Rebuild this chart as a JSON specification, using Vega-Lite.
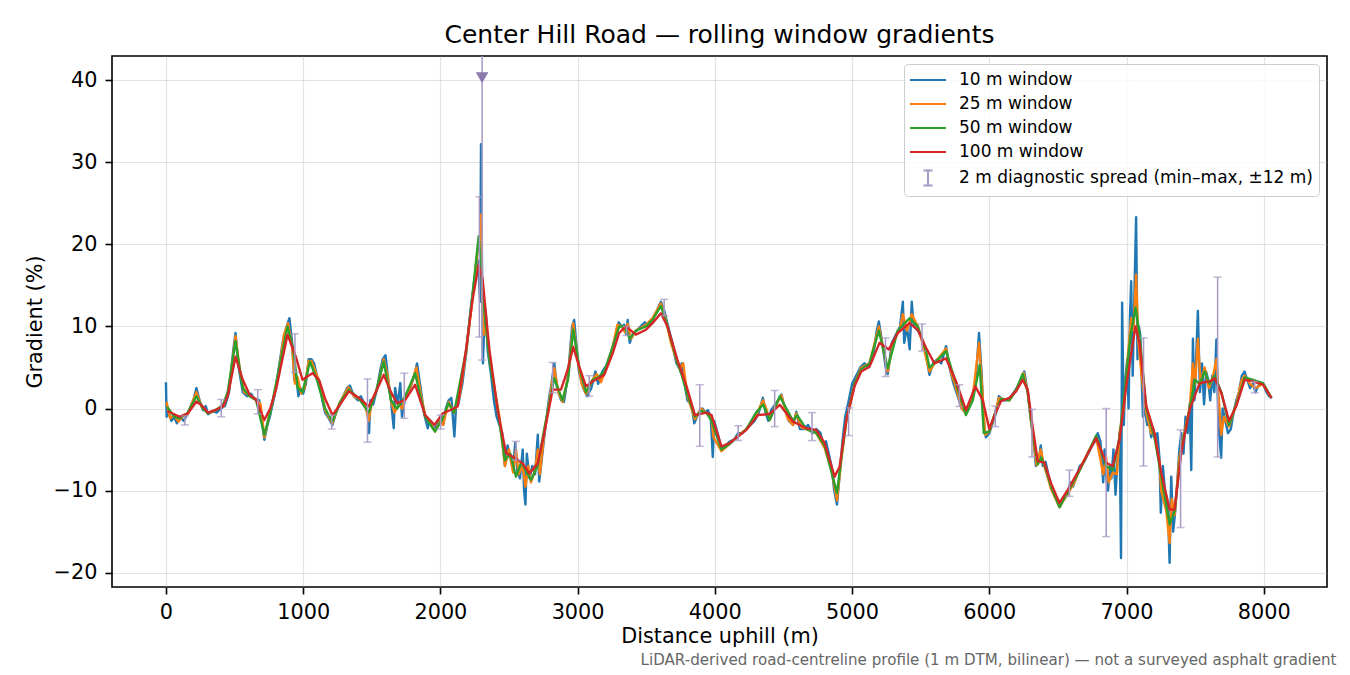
{
"$schema":"https://vega.github.io/schema/vega-lite/v6.json",
"width":1215,"height":531,
"autosize":{"type":"none"},
"padding":{"left":112,"top":56,"right":23,"bottom":88},
"background":"white",
"title":{"text":"Center Hill Road — rolling window gradients","fontSize":25,"font":"DejaVu Sans","fontWeight":"normal","anchor":"middle","offset":8,"color":"#000"},
"config":{
"font":"DejaVu Sans",
"view":{"stroke":"#000","strokeWidth":1.6},
"axis":{"labelFont":"DejaVu Sans","titleFont":"DejaVu Sans","labelFontSize":20.8,"titleFontSize":20.8,"titleFontWeight":"normal","labelColor":"#000","titleColor":"#000","tickColor":"#000","tickSize":7,"tickWidth":1.6,"labelPadding":8,"domain":false,"gridColor":"#b0b0b0","gridOpacity":0.35,"gridWidth":1.2,"labelFlush":false,"labelOverlap":false}
},
"resolve":{"axis":{"x":"independent","y":"independent"}},
"layer":[
{"data":{"values":[
{"d":0,"g":3.2},{"d":5,"g":-1.0},{"d":20,"g":-0.5},{"d":40,"g":-1.5},{"d":60,"g":-1.0},{"d":80,"g":-1.8},{"d":100,"g":-1.0},{"d":130,"g":-1.5},{"d":160,"g":-0.5},{"d":200,"g":1.0},{"d":222,"g":2.5},{"d":245,"g":1.0},{"d":270,"g":-0.2},{"d":290,"g":0.3},{"d":307,"g":-0.7},{"d":340,"g":-0.3},{"d":370,"g":-0.5},{"d":400,"g":0.0},{"d":430,"g":0.3},{"d":460,"g":2.0},{"d":490,"g":7.0},{"d":507,"g":9.2},{"d":530,"g":5.0},{"d":560,"g":2.0},{"d":590,"g":1.5},{"d":620,"g":1.8},{"d":640,"g":1.3},{"d":680,"g":1.0},{"d":717,"g":-3.8},{"d":740,"g":-2.0},{"d":760,"g":-0.8},{"d":790,"g":1.5},{"d":810,"g":3.5},{"d":850,"g":8.0},{"d":880,"g":10.0},{"d":900,"g":11.0},{"d":920,"g":8.0},{"d":935,"g":3.5},{"d":950,"g":4.0},{"d":965,"g":1.5},{"d":980,"g":2.5},{"d":1000,"g":1.8},{"d":1020,"g":3.0},{"d":1040,"g":6.0},{"d":1060,"g":6.0},{"d":1080,"g":5.5},{"d":1100,"g":4.0},{"d":1120,"g":3.0},{"d":1140,"g":1.0},{"d":1160,"g":-0.5},{"d":1180,"g":-1.0},{"d":1213,"g":-2.0},{"d":1240,"g":-0.5},{"d":1280,"g":1.0},{"d":1320,"g":2.5},{"d":1340,"g":2.8},{"d":1370,"g":1.5},{"d":1400,"g":1.0},{"d":1420,"g":1.5},{"d":1450,"g":0.5},{"d":1470,"g":-0.5},{"d":1480,"g":-3.0},{"d":1490,"g":1.0},{"d":1510,"g":0.5},{"d":1540,"g":2.5},{"d":1560,"g":4.5},{"d":1580,"g":6.0},{"d":1600,"g":6.5},{"d":1620,"g":3.5},{"d":1640,"g":1.0},{"d":1660,"g":-2.4},{"d":1670,"g":2.5},{"d":1690,"g":0.5},{"d":1708,"g":3.1},{"d":1720,"g":-1.0},{"d":1740,"g":1.0},{"d":1780,"g":2.5},{"d":1810,"g":4.0},{"d":1830,"g":5.5},{"d":1860,"g":2.0},{"d":1880,"g":-0.5},{"d":1908,"g":-2.4},{"d":1920,"g":-1.5},{"d":1950,"g":-2.5},{"d":1980,"g":-2.0},{"d":2000,"g":-1.0},{"d":2020,"g":-2.0},{"d":2040,"g":0.0},{"d":2060,"g":1.0},{"d":2080,"g":1.3},{"d":2102,"g":-3.4},{"d":2115,"g":0.5},{"d":2130,"g":0.5},{"d":2160,"g":3.0},{"d":2190,"g":7.0},{"d":2220,"g":12.0},{"d":2250,"g":16.0},{"d":2275,"g":18.0},{"d":2290,"g":13.0},{"d":2296,"g":32.2},{"d":2302,"g":20.0},{"d":2310,"g":5.5},{"d":2320,"g":10.5},{"d":2330,"g":12.0},{"d":2345,"g":7.0},{"d":2370,"g":4.0},{"d":2390,"g":1.0},{"d":2410,"g":-1.0},{"d":2430,"g":-2.0},{"d":2450,"g":-3.0},{"d":2470,"g":-7.0},{"d":2490,"g":-4.5},{"d":2510,"g":-6.0},{"d":2530,"g":-7.5},{"d":2545,"g":-4.2},{"d":2560,"g":-7.5},{"d":2580,"g":-8.5},{"d":2600,"g":-5.0},{"d":2610,"g":-10.0},{"d":2620,"g":-11.7},{"d":2630,"g":-5.5},{"d":2650,"g":-8.5},{"d":2670,"g":-7.0},{"d":2690,"g":-8.0},{"d":2710,"g":-3.2},{"d":2720,"g":-8.9},{"d":2740,"g":-6.0},{"d":2760,"g":-3.0},{"d":2790,"g":1.0},{"d":2810,"g":3.0},{"d":2830,"g":5.5},{"d":2850,"g":2.5},{"d":2880,"g":1.0},{"d":2900,"g":0.8},{"d":2930,"g":4.0},{"d":2960,"g":10.0},{"d":2975,"g":10.8},{"d":2990,"g":8.0},{"d":3010,"g":4.5},{"d":3040,"g":2.5},{"d":3070,"g":1.5},{"d":3100,"g":2.5},{"d":3130,"g":4.5},{"d":3150,"g":3.0},{"d":3180,"g":4.5},{"d":3220,"g":5.5},{"d":3250,"g":7.0},{"d":3280,"g":9.0},{"d":3300,"g":10.5},{"d":3320,"g":10.0},{"d":3340,"g":10.2},{"d":3355,"g":9.0},{"d":3365,"g":10.8},{"d":3380,"g":8.0},{"d":3400,"g":9.0},{"d":3430,"g":9.5},{"d":3460,"g":10.0},{"d":3490,"g":10.5},{"d":3520,"g":10.0},{"d":3550,"g":11.0},{"d":3580,"g":12.0},{"d":3607,"g":13.0},{"d":3630,"g":12.0},{"d":3660,"g":10.0},{"d":3690,"g":8.0},{"d":3720,"g":5.5},{"d":3740,"g":5.0},{"d":3760,"g":5.5},{"d":3780,"g":3.0},{"d":3800,"g":1.0},{"d":3830,"g":0.5},{"d":3850,"g":-1.8},{"d":3870,"g":-1.0},{"d":3890,"g":-0.3},{"d":3910,"g":0.0},{"d":3930,"g":-0.5},{"d":3950,"g":-0.2},{"d":3970,"g":-1.0},{"d":3985,"g":-5.9},{"d":3995,"g":-1.5},{"d":4020,"g":-3.0},{"d":4050,"g":-5.0},{"d":4080,"g":-4.5},{"d":4110,"g":-4.0},{"d":4140,"g":-3.8},{"d":4170,"g":-3.0},{"d":4200,"g":-3.0},{"d":4230,"g":-2.5},{"d":4260,"g":-2.0},{"d":4290,"g":-1.5},{"d":4320,"g":-0.5},{"d":4350,"g":1.3},{"d":4370,"g":-0.5},{"d":4390,"g":-1.5},{"d":4410,"g":-0.2},{"d":4440,"g":0.5},{"d":4470,"g":1.2},{"d":4485,"g":1.7},{"d":4510,"g":0.0},{"d":4540,"g":-1.5},{"d":4570,"g":-2.0},{"d":4594,"g":-0.4},{"d":4620,"g":-2.5},{"d":4650,"g":-2.5},{"d":4680,"g":-2.0},{"d":4710,"g":-3.0},{"d":4740,"g":-2.5},{"d":4770,"g":-3.0},{"d":4790,"g":-4.5},{"d":4810,"g":-4.0},{"d":4830,"g":-5.5},{"d":4850,"g":-7.0},{"d":4870,"g":-10.0},{"d":4890,"g":-11.7},{"d":4910,"g":-8.0},{"d":4930,"g":-4.0},{"d":4950,"g":-1.0},{"d":4970,"g":0.5},{"d":5000,"g":3.0},{"d":5030,"g":4.0},{"d":5060,"g":5.0},{"d":5090,"g":5.5},{"d":5120,"g":5.0},{"d":5150,"g":6.0},{"d":5180,"g":9.5},{"d":5195,"g":10.6},{"d":5220,"g":8.0},{"d":5245,"g":5.0},{"d":5260,"g":4.2},{"d":5290,"g":8.0},{"d":5320,"g":9.0},{"d":5350,"g":10.0},{"d":5370,"g":13.0},{"d":5380,"g":8.0},{"d":5400,"g":10.0},{"d":5420,"g":7.2},{"d":5435,"g":13.0},{"d":5450,"g":10.0},{"d":5480,"g":9.5},{"d":5510,"g":8.5},{"d":5540,"g":6.5},{"d":5564,"g":4.1},{"d":5590,"g":5.5},{"d":5620,"g":6.0},{"d":5650,"g":5.5},{"d":5685,"g":7.6},{"d":5710,"g":5.0},{"d":5740,"g":3.0},{"d":5770,"g":1.5},{"d":5800,"g":0.0},{"d":5830,"g":-0.5},{"d":5860,"g":0.5},{"d":5900,"g":3.0},{"d":5925,"g":9.2},{"d":5945,"g":4.0},{"d":5960,"g":-1.5},{"d":5975,"g":-3.5},{"d":6000,"g":-3.0},{"d":6030,"g":-1.5},{"d":6050,"g":-0.5},{"d":6070,"g":1.5},{"d":6100,"g":1.0},{"d":6130,"g":1.0},{"d":6160,"g":1.5},{"d":6200,"g":2.5},{"d":6230,"g":3.5},{"d":6255,"g":4.5},{"d":6280,"g":2.0},{"d":6300,"g":-1.0},{"d":6320,"g":-3.5},{"d":6340,"g":-7.0},{"d":6360,"g":-6.5},{"d":6375,"g":-4.5},{"d":6390,"g":-7.0},{"d":6410,"g":-6.5},{"d":6430,"g":-8.0},{"d":6460,"g":-10.0},{"d":6490,"g":-11.0},{"d":6515,"g":-12.0},{"d":6540,"g":-11.0},{"d":6570,"g":-10.5},{"d":6590,"g":-9.0},{"d":6610,"g":-9.5},{"d":6640,"g":-8.0},{"d":6660,"g":-7.0},{"d":6690,"g":-6.5},{"d":6720,"g":-5.5},{"d":6750,"g":-4.5},{"d":6770,"g":-4.0},{"d":6790,"g":-3.0},{"d":6810,"g":-4.0},{"d":6830,"g":-9.0},{"d":6840,"g":-5.0},{"d":6850,"g":-8.0},{"d":6865,"g":-10.0},{"d":6880,"g":-7.0},{"d":6890,"g":-8.5},{"d":6905,"g":-5.0},{"d":6920,"g":-10.5},{"d":6935,"g":-6.0},{"d":6950,"g":-3.0},{"d":6960,"g":-18.2},{"d":6968,"g":12.9},{"d":6980,"g":-2.0},{"d":6990,"g":3.0},{"d":7005,"g":6.0},{"d":7015,"g":0.0},{"d":7025,"g":11.0},{"d":7034,"g":15.5},{"d":7045,"g":4.0},{"d":7055,"g":12.0},{"d":7070,"g":23.3},{"d":7080,"g":6.0},{"d":7090,"g":10.0},{"d":7100,"g":9.0},{"d":7110,"g":4.0},{"d":7120,"g":-1.0},{"d":7135,"g":0.0},{"d":7150,"g":-2.0},{"d":7165,"g":-1.5},{"d":7180,"g":-3.5},{"d":7195,"g":-2.5},{"d":7210,"g":-4.0},{"d":7225,"g":-3.0},{"d":7240,"g":-6.0},{"d":7250,"g":-12.7},{"d":7265,"g":-7.0},{"d":7280,"g":-10.0},{"d":7295,"g":-11.0},{"d":7305,"g":-14.0},{"d":7314,"g":-18.8},{"d":7322,"g":-11.0},{"d":7326,"g":-8.3},{"d":7340,"g":-15.0},{"d":7355,"g":-12.5},{"d":7370,"g":-9.0},{"d":7385,"g":-5.0},{"d":7400,"g":-3.0},{"d":7415,"g":-5.5},{"d":7430,"g":-1.0},{"d":7445,"g":-3.0},{"d":7460,"g":0.5},{"d":7472,"g":-7.5},{"d":7484,"g":8.5},{"d":7495,"g":1.0},{"d":7505,"g":5.0},{"d":7520,"g":11.9},{"d":7535,"g":2.0},{"d":7550,"g":5.5},{"d":7565,"g":0.5},{"d":7580,"g":4.5},{"d":7595,"g":3.5},{"d":7610,"g":1.0},{"d":7625,"g":4.0},{"d":7640,"g":2.0},{"d":7655,"g":8.4},{"d":7670,"g":-2.0},{"d":7690,"g":-6.0},{"d":7700,"g":0.0},{"d":7720,"g":-1.5},{"d":7740,"g":-3.0},{"d":7760,"g":-2.5},{"d":7780,"g":-0.5},{"d":7800,"g":1.0},{"d":7820,"g":2.0},{"d":7840,"g":4.0},{"d":7860,"g":4.5},{"d":7880,"g":3.5},{"d":7900,"g":2.5},{"d":7920,"g":3.0},{"d":7940,"g":2.0},{"d":7960,"g":2.8},{"d":7980,"g":3.0},{"d":8000,"g":2.8},{"d":8020,"g":2.0},{"d":8040,"g":1.5},{"d":8060,"g":1.3}
]},
"mark":{"type":"line","strokeWidth":2.4,"strokeJoin":"round"},
"encoding":{
"x":{"field":"d","type":"quantitative","scale":{"domain":[-393,8461],"nice":false,"zero":false},"axis":{"title":"Distance uphill (m)","orient":"bottom","format":"d","values":[0,1000,2000,3000,4000,5000,6000,7000,8000],"titlePadding":5}},
"y":{"field":"g","type":"quantitative","scale":{"domain":[-21.74,42.94],"nice":false,"zero":false},"axis":{"title":"Gradient (%)","orient":"left","format":"d","values":[-20,-10,0,10,20,30,40],"labelExpr":"replace(datum.label, '-', '−')","titlePadding":8}},
"color":{"datum":"10 m window","type":"nominal","scale":{"domain":["10 m window","25 m window","50 m window","100 m window","2 m diagnostic spread (min–max, ±12 m)"],"range":["#1f77b4","#ff7f0e","#2ca02c","#d62728","#a898c4"]},
"legend":{"title":null,"orient":"top-right","offset":8,"padding":6,"symbolSize":324,"symbolOffset":8,"labelOffset":21,"rowPadding":6,"labelFont":"DejaVu Sans","labelFontSize":17,"labelColor":"#000","labelLimit":0,"fillColor":"rgba(255,255,255,0.8)","strokeColor":"#cccccc","cornerRadius":4,"symbolStrokeWidth":2,
"encode":{"symbols":{"update":{"shape":{"signal":"indexof(datum.value, '2 m') === 0 ? 'M-0.5,-0.82L0.5,-0.82M0,-0.82L0,0.82M-0.5,0.82L0.5,0.82' : 'M-2,0L2,0'"},"strokeWidth":{"value":2},"fill":{"value":"transparent"}}}}}}
}},
{"data":{"values":[
{"d":5,"g":0.8},{"d":30,"g":-1.2},{"d":60,"g":-0.8},{"d":90,"g":-1.6},{"d":120,"g":-1.0},{"d":160,"g":-0.6},{"d":222,"g":2.0},{"d":260,"g":0.2},{"d":300,"g":-0.5},{"d":340,"g":-0.4},{"d":380,"g":0.0},{"d":420,"g":0.3},{"d":460,"g":2.5},{"d":507,"g":8.8},{"d":540,"g":4.5},{"d":570,"g":2.0},{"d":609,"g":1.6},{"d":650,"g":1.2},{"d":690,"g":0.5},{"d":717,"g":-3.5},{"d":750,"g":-1.0},{"d":790,"g":1.8},{"d":820,"g":4.0},{"d":860,"g":9.0},{"d":890,"g":10.4},{"d":920,"g":7.5},{"d":940,"g":3.0},{"d":960,"g":3.8},{"d":985,"g":1.8},{"d":1010,"g":2.5},{"d":1040,"g":5.8},{"d":1060,"g":5.8},{"d":1090,"g":4.5},{"d":1120,"g":3.2},{"d":1160,"g":-0.2},{"d":1213,"g":-1.8},{"d":1260,"g":0.5},{"d":1330,"g":2.6},{"d":1370,"g":1.5},{"d":1406,"g":1.2},{"d":1450,"g":0.5},{"d":1478,"g":-1.5},{"d":1500,"g":0.8},{"d":1540,"g":2.5},{"d":1587,"g":6.0},{"d":1615,"g":4.0},{"d":1640,"g":1.0},{"d":1665,"g":-0.5},{"d":1700,"g":0.5},{"d":1720,"g":0.0},{"d":1750,"g":1.5},{"d":1790,"g":3.0},{"d":1825,"g":5.0},{"d":1860,"g":1.5},{"d":1889,"g":-0.8},{"d":1920,"g":-1.5},{"d":1961,"g":-2.8},{"d":2000,"g":-1.5},{"d":2020,"g":-2.0},{"d":2060,"g":0.8},{"d":2100,"g":-0.5},{"d":2140,"g":1.5},{"d":2190,"g":7.2},{"d":2235,"g":13.5},{"d":2270,"g":19.0},{"d":2288,"g":20.0},{"d":2296,"g":23.6},{"d":2305,"g":14.0},{"d":2315,"g":9.0},{"d":2330,"g":10.0},{"d":2357,"g":6.5},{"d":2400,"g":2.0},{"d":2430,"g":-1.0},{"d":2470,"g":-7.0},{"d":2500,"g":-5.0},{"d":2530,"g":-7.8},{"d":2551,"g":-5.0},{"d":2570,"g":-8.0},{"d":2600,"g":-7.0},{"d":2620,"g":-9.5},{"d":2640,"g":-7.0},{"d":2660,"g":-9.0},{"d":2690,"g":-7.5},{"d":2710,"g":-5.0},{"d":2725,"g":-8.0},{"d":2757,"g":-3.0},{"d":2800,"g":1.5},{"d":2830,"g":4.9},{"d":2860,"g":2.0},{"d":2890,"g":0.8},{"d":2930,"g":3.8},{"d":2968,"g":10.4},{"d":3000,"g":6.0},{"d":3030,"g":3.0},{"d":3061,"g":1.8},{"d":3109,"g":3.5},{"d":3140,"g":4.2},{"d":3170,"g":3.2},{"d":3210,"g":5.0},{"d":3255,"g":7.5},{"d":3290,"g":10.2},{"d":3320,"g":10.0},{"d":3345,"g":9.3},{"d":3365,"g":10.3},{"d":3390,"g":8.5},{"d":3425,"g":9.5},{"d":3498,"g":10.2},{"d":3546,"g":11.0},{"d":3607,"g":12.8},{"d":3640,"g":11.0},{"d":3680,"g":8.0},{"d":3728,"g":5.5},{"d":3750,"g":5.0},{"d":3770,"g":5.5},{"d":3800,"g":1.5},{"d":3855,"g":-1.3},{"d":3900,"g":0.0},{"d":3939,"g":-0.6},{"d":3976,"g":-1.2},{"d":3990,"g":-3.5},{"d":4048,"g":-5.2},{"d":4109,"g":-4.3},{"d":4170,"g":-3.3},{"d":4230,"g":-2.5},{"d":4300,"g":-0.8},{"d":4352,"g":1.0},{"d":4380,"g":-0.3},{"d":4400,"g":-1.4},{"d":4440,"g":0.3},{"d":4485,"g":1.6},{"d":4530,"g":-1.2},{"d":4570,"g":-2.0},{"d":4594,"g":-0.6},{"d":4630,"g":-2.3},{"d":4667,"g":-2.5},{"d":4710,"g":-2.8},{"d":4739,"g":-3.0},{"d":4800,"g":-4.8},{"d":4850,"g":-7.5},{"d":4890,"g":-11.2},{"d":4920,"g":-6.5},{"d":4958,"g":-1.5},{"d":5018,"g":3.0},{"d":5067,"g":5.0},{"d":5127,"g":5.5},{"d":5195,"g":10.0},{"d":5230,"g":7.0},{"d":5260,"g":4.5},{"d":5300,"g":8.0},{"d":5350,"g":9.8},{"d":5370,"g":11.5},{"d":5400,"g":9.5},{"d":5435,"g":11.5},{"d":5479,"g":10.0},{"d":5520,"g":7.5},{"d":5564,"g":4.5},{"d":5600,"g":5.5},{"d":5685,"g":7.3},{"d":5720,"g":4.5},{"d":5758,"g":2.5},{"d":5800,"g":0.0},{"d":5830,"g":-0.6},{"d":5880,"g":1.5},{"d":5925,"g":8.0},{"d":5950,"g":2.0},{"d":5970,"g":-3.2},{"d":6000,"g":-2.8},{"d":6036,"g":-1.0},{"d":6070,"g":1.3},{"d":6146,"g":1.0},{"d":6200,"g":2.4},{"d":6250,"g":4.3},{"d":6280,"g":2.0},{"d":6316,"g":-3.2},{"d":6345,"g":-6.9},{"d":6375,"g":-5.0},{"d":6401,"g":-7.0},{"d":6450,"g":-9.8},{"d":6511,"g":-12.0},{"d":6572,"g":-10.4},{"d":6620,"g":-9.0},{"d":6657,"g":-7.5},{"d":6720,"g":-5.3},{"d":6779,"g":-3.5},{"d":6830,"g":-8.0},{"d":6852,"g":-6.0},{"d":6870,"g":-9.0},{"d":6900,"g":-7.8},{"d":6930,"g":-8.0},{"d":6949,"g":-3.0},{"d":6980,"g":0.0},{"d":7000,"g":4.5},{"d":7034,"g":11.0},{"d":7050,"g":9.5},{"d":7070,"g":16.3},{"d":7085,"g":8.5},{"d":7110,"g":4.0},{"d":7144,"g":-0.5},{"d":7180,"g":-3.0},{"d":7204,"g":-3.0},{"d":7240,"g":-6.5},{"d":7253,"g":-10.0},{"d":7290,"g":-12.5},{"d":7314,"g":-16.4},{"d":7330,"g":-11.0},{"d":7350,"g":-13.0},{"d":7385,"g":-6.0},{"d":7420,"g":-3.0},{"d":7460,"g":0.0},{"d":7484,"g":5.5},{"d":7500,"g":3.0},{"d":7520,"g":8.5},{"d":7540,"g":3.0},{"d":7570,"g":5.0},{"d":7600,"g":2.5},{"d":7625,"g":3.5},{"d":7655,"g":6.0},{"d":7675,"g":0.5},{"d":7690,"g":-3.2},{"d":7710,"g":-1.0},{"d":7747,"g":-2.2},{"d":7800,"g":0.6},{"d":7840,"g":3.5},{"d":7861,"g":4.0},{"d":7900,"g":3.0},{"d":7940,"g":2.5},{"d":7995,"g":3.0},{"d":8056,"g":1.3}
]},
"mark":{"type":"line","strokeWidth":2.4,"strokeJoin":"round"},
"encoding":{
"x":{"field":"d","type":"quantitative","scale":{"domain":[-393,8461],"nice":false,"zero":false},"axis":null},
"y":{"field":"g","type":"quantitative","scale":{"domain":[-21.74,42.94],"nice":false,"zero":false},"axis":null},
"color":{"datum":"25 m window","type":"nominal","legend":null}
}},
{"data":{"values":[
{"d":10,"g":0.2},{"d":60,"g":-1.0},{"d":100,"g":-1.2},{"d":160,"g":-0.5},{"d":222,"g":1.5},{"d":270,"g":0.0},{"d":307,"g":-0.6},{"d":360,"g":-0.2},{"d":415,"g":0.4},{"d":450,"g":2.0},{"d":507,"g":8.2},{"d":560,"g":2.5},{"d":609,"g":1.5},{"d":657,"g":1.0},{"d":717,"g":-3.2},{"d":760,"g":-0.5},{"d":802,"g":3.0},{"d":886,"g":10.0},{"d":930,"g":7.0},{"d":960,"g":2.5},{"d":995,"g":2.0},{"d":1050,"g":5.7},{"d":1100,"g":3.5},{"d":1160,"g":0.0},{"d":1213,"g":-1.6},{"d":1270,"g":0.8},{"d":1333,"g":2.3},{"d":1406,"g":1.2},{"d":1478,"g":-0.5},{"d":1530,"g":2.0},{"d":1587,"g":5.7},{"d":1640,"g":1.0},{"d":1684,"g":0.0},{"d":1744,"g":1.5},{"d":1816,"g":4.3},{"d":1889,"g":-1.0},{"d":1961,"g":-2.8},{"d":2017,"g":-1.2},{"d":2058,"g":0.65},{"d":2100,"g":-0.5},{"d":2187,"g":7.0},{"d":2235,"g":14.0},{"d":2279,"g":21.0},{"d":2320,"g":12.0},{"d":2357,"g":6.0},{"d":2417,"g":0.0},{"d":2470,"g":-6.3},{"d":2510,"g":-5.5},{"d":2551,"g":-8.3},{"d":2590,"g":-6.5},{"d":2620,"g":-7.5},{"d":2660,"g":-8.7},{"d":2709,"g":-7.0},{"d":2757,"g":-2.5},{"d":2830,"g":3.7},{"d":2890,"g":1.0},{"d":2930,"g":3.5},{"d":2968,"g":9.6},{"d":3012,"g":5.0},{"d":3061,"g":2.0},{"d":3109,"g":3.5},{"d":3150,"g":3.8},{"d":3194,"g":4.5},{"d":3255,"g":7.5},{"d":3303,"g":10.0},{"d":3340,"g":10.0},{"d":3380,"g":8.5},{"d":3425,"g":9.5},{"d":3498,"g":10.0},{"d":3546,"g":10.8},{"d":3607,"g":12.5},{"d":3655,"g":10.0},{"d":3728,"g":5.5},{"d":3760,"g":4.0},{"d":3794,"g":2.0},{"d":3855,"g":-1.0},{"d":3900,"g":-0.3},{"d":3939,"g":-0.5},{"d":3976,"g":-1.5},{"d":4048,"g":-5.0},{"d":4109,"g":-4.3},{"d":4230,"g":-2.5},{"d":4300,"g":-0.5},{"d":4352,"g":0.5},{"d":4400,"g":-1.4},{"d":4473,"g":1.5},{"d":4570,"g":-1.5},{"d":4600,"g":-0.8},{"d":4667,"g":-2.5},{"d":4739,"g":-3.0},{"d":4800,"g":-4.5},{"d":4890,"g":-10.3},{"d":4930,"g":-5.0},{"d":4958,"g":-1.5},{"d":5018,"g":3.0},{"d":5067,"g":4.8},{"d":5127,"g":5.5},{"d":5195,"g":9.5},{"d":5260,"g":4.9},{"d":5333,"g":9.5},{"d":5418,"g":11.0},{"d":5479,"g":10.0},{"d":5539,"g":7.0},{"d":5564,"g":5.0},{"d":5600,"g":5.5},{"d":5685,"g":7.0},{"d":5758,"g":3.0},{"d":5830,"g":-0.8},{"d":5880,"g":1.0},{"d":5930,"g":5.3},{"d":5960,"g":-3.0},{"d":6000,"g":-2.8},{"d":6036,"g":-0.8},{"d":6085,"g":1.2},{"d":6146,"g":1.0},{"d":6195,"g":2.2},{"d":6243,"g":4.2},{"d":6280,"g":2.0},{"d":6316,"g":-3.0},{"d":6353,"g":-6.8},{"d":6380,"g":-6.0},{"d":6401,"g":-6.8},{"d":6450,"g":-9.5},{"d":6511,"g":-12.0},{"d":6572,"g":-10.2},{"d":6657,"g":-7.6},{"d":6779,"g":-3.3},{"d":6852,"g":-7.0},{"d":6900,"g":-7.5},{"d":6949,"g":-3.5},{"d":6998,"g":4.0},{"d":7030,"g":9.0},{"d":7066,"g":12.3},{"d":7095,"g":9.0},{"d":7144,"g":0.0},{"d":7204,"g":-3.5},{"d":7253,"g":-8.3},{"d":7314,"g":-14.1},{"d":7350,"g":-12.5},{"d":7399,"g":-5.0},{"d":7460,"g":0.0},{"d":7500,"g":3.5},{"d":7533,"g":3.0},{"d":7570,"g":4.5},{"d":7606,"g":3.0},{"d":7642,"g":4.0},{"d":7691,"g":2.0},{"d":7747,"g":-2.0},{"d":7800,"g":0.5},{"d":7861,"g":3.8},{"d":7922,"g":3.5},{"d":7995,"g":3.1},{"d":8056,"g":1.3}
]},
"mark":{"type":"line","strokeWidth":2.4,"strokeJoin":"round"},
"encoding":{
"x":{"field":"d","type":"quantitative","scale":{"domain":[-393,8461],"nice":false,"zero":false},"axis":null},
"y":{"field":"g","type":"quantitative","scale":{"domain":[-21.74,42.94],"nice":false,"zero":false},"axis":null},
"color":{"datum":"50 m window","type":"nominal","legend":null}
}},
{"data":{"values":[
{"d":10,"g":-0.3},{"d":100,"g":-1.0},{"d":160,"g":-0.6},{"d":222,"g":0.85},{"d":260,"g":0.4},{"d":307,"g":-0.5},{"d":360,"g":-0.2},{"d":415,"g":0.25},{"d":450,"g":1.5},{"d":507,"g":6.3},{"d":560,"g":3.5},{"d":609,"g":1.7},{"d":657,"g":1.05},{"d":717,"g":-1.4},{"d":760,"g":0.0},{"d":802,"g":2.3},{"d":886,"g":9.0},{"d":947,"g":6.3},{"d":995,"g":3.5},{"d":1030,"g":3.9},{"d":1068,"g":4.3},{"d":1116,"g":3.5},{"d":1160,"g":1.2},{"d":1213,"g":-0.8},{"d":1270,"g":0.5},{"d":1333,"g":2.1},{"d":1406,"g":1.3},{"d":1478,"g":0.25},{"d":1530,"g":2.0},{"d":1587,"g":4.1},{"d":1640,"g":2.0},{"d":1684,"g":0.65},{"d":1744,"g":1.05},{"d":1816,"g":2.9},{"d":1889,"g":-0.8},{"d":1956,"g":-2.0},{"d":2017,"g":-0.6},{"d":2078,"g":-0.15},{"d":2126,"g":0.25},{"d":2187,"g":7.2},{"d":2235,"g":13.3},{"d":2279,"g":17.5},{"d":2308,"g":15.7},{"d":2357,"g":7.2},{"d":2417,"g":-0.15},{"d":2478,"g":-5.4},{"d":2551,"g":-6.1},{"d":2600,"g":-6.7},{"d":2648,"g":-7.9},{"d":2709,"g":-6.7},{"d":2757,"g":-3.0},{"d":2818,"g":2.3},{"d":2879,"g":2.3},{"d":2927,"g":4.7},{"d":2968,"g":7.5},{"d":3012,"g":5.1},{"d":3061,"g":2.7},{"d":3109,"g":3.3},{"d":3194,"g":4.1},{"d":3255,"g":6.7},{"d":3303,"g":9.2},{"d":3352,"g":10.0},{"d":3425,"g":9.0},{"d":3498,"g":9.6},{"d":3546,"g":10.4},{"d":3607,"g":11.6},{"d":3655,"g":10.0},{"d":3728,"g":5.9},{"d":3794,"g":2.7},{"d":3855,"g":-0.8},{"d":3939,"g":-0.5},{"d":3976,"g":-0.8},{"d":4048,"g":-4.6},{"d":4109,"g":-4.2},{"d":4230,"g":-2.6},{"d":4315,"g":-0.8},{"d":4400,"g":-0.65},{"d":4473,"g":0.45},{"d":4570,"g":-1.6},{"d":4667,"g":-2.4},{"d":4739,"g":-2.6},{"d":4800,"g":-4.2},{"d":4873,"g":-8.3},{"d":4909,"g":-7.1},{"d":4958,"g":-1.4},{"d":5018,"g":2.7},{"d":5067,"g":4.5},{"d":5127,"g":5.1},{"d":5200,"g":8.0},{"d":5268,"g":7.2},{"d":5333,"g":9.2},{"d":5418,"g":10.4},{"d":5479,"g":9.6},{"d":5539,"g":7.4},{"d":5600,"g":5.5},{"d":5685,"g":6.1},{"d":5758,"g":3.3},{"d":5830,"g":-0.2},{"d":5898,"g":2.7},{"d":5952,"g":1.05},{"d":6000,"g":-2.5},{"d":6036,"g":-0.9},{"d":6085,"g":0.9},{"d":6146,"g":1.3},{"d":6195,"g":2.1},{"d":6243,"g":3.5},{"d":6280,"g":2.3},{"d":6316,"g":-2.2},{"d":6353,"g":-6.4},{"d":6401,"g":-6.6},{"d":6450,"g":-9.1},{"d":6511,"g":-11.5},{"d":6572,"g":-9.9},{"d":6657,"g":-7.4},{"d":6779,"g":-3.6},{"d":6852,"g":-6.6},{"d":6900,"g":-7.0},{"d":6949,"g":-3.8},{"d":6998,"g":2.7},{"d":7046,"g":8.0},{"d":7066,"g":10.0},{"d":7095,"g":8.0},{"d":7144,"g":0.3},{"d":7204,"g":-3.0},{"d":7253,"g":-7.8},{"d":7314,"g":-12.3},{"d":7350,"g":-12.3},{"d":7399,"g":-5.4},{"d":7460,"g":-0.1},{"d":7533,"g":3.1},{"d":7606,"g":3.3},{"d":7642,"g":3.7},{"d":7691,"g":1.9},{"d":7747,"g":-1.5},{"d":7800,"g":0.3},{"d":7861,"g":3.5},{"d":7922,"g":3.3},{"d":7995,"g":2.9},{"d":8056,"g":1.3}
]},
"mark":{"type":"line","strokeWidth":2.4,"strokeJoin":"round"},
"encoding":{
"x":{"field":"d","type":"quantitative","scale":{"domain":[-393,8461],"nice":false,"zero":false},"axis":null},
"y":{"field":"g","type":"quantitative","scale":{"domain":[-21.74,42.94],"nice":false,"zero":false},"axis":null},
"color":{"datum":"100 m window","type":"nominal","legend":null}
}},
{"data":{"values":[
{"d":138,"lo":-2.0,"hi":-0.9},{"d":403,"lo":-1.0,"hi":1.1},{"d":669,"lo":-0.65,"hi":2.3},{"d":940,"lo":4.4,"hi":9.1},{"d":1208,"lo":-2.5,"hi":-0.8},{"d":1469,"lo":-4.1,"hi":3.6},{"d":1737,"lo":-1.2,"hi":4.3},{"d":2002,"lo":-2.5,"hi":-0.8},{"d":2284,"lo":8.7,"hi":25.8},{"d":2551,"lo":-6.3,"hi":-4.0},{"d":2818,"lo":1.9,"hi":5.6},{"d":3085,"lo":1.5,"hi":4.0},{"d":3357,"lo":8.9,"hi":10.0},{"d":3631,"lo":11.3,"hi":13.3},{"d":3890,"lo":-4.6,"hi":2.9},{"d":4170,"lo":-3.9,"hi":-2.1},{"d":4436,"lo":-2.2,"hi":2.2},{"d":4708,"lo":-3.9,"hi":-0.5},{"d":4975,"lo":-3.3,"hi":0.1},{"d":5244,"lo":3.9,"hi":8.6},{"d":5510,"lo":7.0,"hi":10.3},{"d":5782,"lo":0.25,"hi":2.9},{"d":6044,"lo":-2.2,"hi":0.3},{"d":6311,"lo":-5.9,"hi":-0.1},{"d":6584,"lo":-10.7,"hi":-7.5},{"d":6852,"lo":-15.6,"hi":0.0},{"d":7124,"lo":-7.0,"hi":8.6},{"d":7394,"lo":-14.5,"hi":-2.6},{"d":7664,"lo":-5.9,"hi":16.0},{"d":7934,"lo":1.9,"hi":3.3}
]},
"mark":{"type":"errorbar","ticks":true,"size":8,"thickness":1.5,"color":"#a898c4"},
"encoding":{
"x":{"field":"d","type":"quantitative","scale":{"domain":[-393,8461],"nice":false,"zero":false},"axis":null},
"y":{"field":"lo","type":"quantitative","scale":{"domain":[-21.74,42.94],"nice":false,"zero":false},"axis":null},
"y2":{"field":"hi"}
}},
{"data":{"values":[{"d":2304,"lo":5.9,"hi":60}]},
"mark":{"type":"rule","clip":true,"color":"#a898c4","strokeWidth":1.5},
"encoding":{
"x":{"field":"d","type":"quantitative","scale":{"domain":[-393,8461],"nice":false,"zero":false},"axis":null},
"y":{"field":"lo","type":"quantitative","scale":{"domain":[-21.74,42.94],"nice":false,"zero":false},"axis":null},
"y2":{"field":"hi"}
}},
{"data":{"values":[{"d":2304,"lo":5.9}]},
"mark":{"type":"tick","orient":"horizontal","size":8,"thickness":1.5,"color":"#a898c4"},
"encoding":{
"x":{"field":"d","type":"quantitative","scale":{"domain":[-393,8461],"nice":false,"zero":false},"axis":null},
"y":{"field":"lo","type":"quantitative","scale":{"domain":[-21.74,42.94],"nice":false,"zero":false},"axis":null}
}},
{"data":{"values":[{"d":2304,"g":40.3}]},
"mark":{"type":"point","shape":"triangle-down","filled":true,"size":160,"color":"#8a7aae","opacity":1},
"encoding":{
"x":{"field":"d","type":"quantitative","scale":{"domain":[-393,8461],"nice":false,"zero":false},"axis":{"title":"LiDAR-derived road-centreline profile (1 m DTM, bilinear) — not a surveyed asphalt gradient","orient":"bottom","labels":false,"ticks":false,"domain":false,"grid":false,"titleFontSize":15.1,"titleColor":"#666666","titleFontWeight":"normal","titleAnchor":"end","titleAlign":"right","titleX":1224,"titleY":77,"titleBaseline":"alphabetic"}},
"y":{"field":"g","type":"quantitative","scale":{"domain":[-21.74,42.94],"nice":false,"zero":false},"axis":null}
}}
]
}
